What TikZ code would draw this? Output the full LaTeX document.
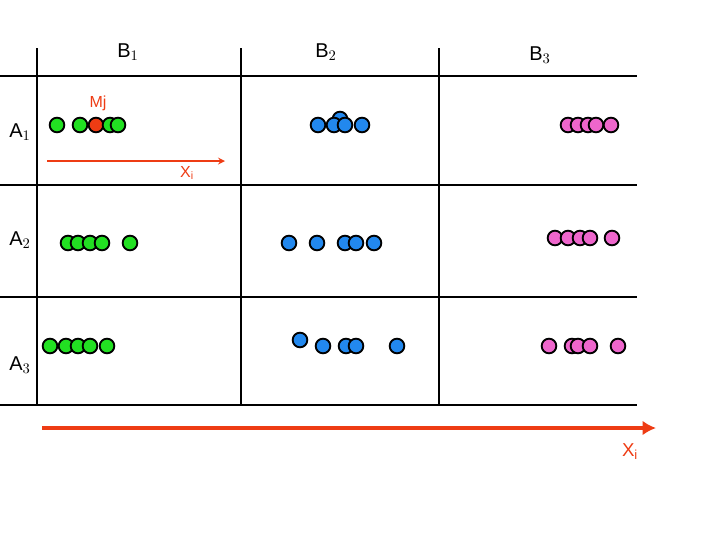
\documentclass[tikz,border=0pt]{standalone}
\usepackage{fontspec}
\setmainfont{Liberation Sans}
\usetikzlibrary{arrows.meta}
\definecolor{gdot}{RGB}{34,224,34}
\definecolor{bdot}{RGB}{34,136,238}
\definecolor{pdot}{RGB}{238,102,204}
\definecolor{rdot}{RGB}{238,60,20}
\begin{document}
\begin{tikzpicture}[x=0.75pt,y=-0.75pt,
 dot/.style={circle,draw=black,line width=1.4pt,minimum size=11pt,inner sep=0pt},
 g/.style={dot,fill=gdot}, b/.style={dot,fill=bdot}, p/.style={dot,fill=pdot}, r/.style={dot,fill=rdot},
 grid/.style={line width=1.2pt},
 lab/.style={font=\fontsize{15}{15}\selectfont},
 rlab/.style={font=\fontsize{12}{12}\selectfont,text=rdot}]
\useasboundingbox (0,0) rectangle (720,540);
\foreach \x in {37,241,439} \draw[grid] (\x,48) -- (\x,405);
\foreach \y in {76,185,297,405} \draw[grid] (0,\y) -- (637,\y);
\node[lab] (b1) at (128,52) {B$_1$};
\node[lab] (b2) at (326,52) {B$_2$};
\node[lab] (b3) at (540,55) {B$_3$};
\node[lab] (a1) at (20,132) {A$_1$};
\node[lab] (a2) at (20,240) {A$_2$};
\node[lab] (a3) at (20,365) {A$_3$};
% A1
\node[g] (g1) at (57,125) {}; \node[g] (g2) at (80,125) {};
\node[r] (m) at (96,125) {}; \node[g] (g3) at (110,125) {}; \node[g] (g4) at (118,125) {};
\node[rlab] (mj) at (98,103) {Mj};
\node[b] (b0) at (340,119) {};
\node[b] (b11) at (318,125) {}; \node[b] (b12) at (334,125) {}; \node[b] (b13) at (345,125) {}; \node[b] (b14) at (362,125) {};
\foreach \x [count=\i] in {568,578,588,596,611} \node[p] (p1\i) at (\x,125) {};
% A2
\foreach \x [count=\i] in {68,78,90,102,130} \node[g] (g2\i) at (\x,243) {};
\foreach \x [count=\i] in {289,317,345,356,374} \node[b] (b2\i) at (\x,243) {};
\foreach \x [count=\i] in {555,568,580,590,612} \node[p] (p2\i) at (\x,238) {};
% A3
\foreach \x [count=\i] in {50,66,78,90,107} \node[g] (g3\i) at (\x,346) {};
\node[b] (b30) at (300,340) {};
\foreach \x [count=\i] in {323,346,356,397} \node[b] (b3\i) at (\x,346) {};
\foreach \x [count=\i] in {549,572,578,590,618} \node[p] (p3\i) at (\x,346) {};
% arrows
\coordinate (s1) at (47,161); \coordinate (e1) at (225,161);
\draw[rdot,line width=1.3pt,-stealth] (s1) -- (e1);
\node[rlab] (xi1) at (187,173) {X$_\mathrm{i}$};
\coordinate (s2) at (42,428); \coordinate (e2) at (656,428);
\draw[rdot,line width=3pt,-{Latex[length=10pt,width=11pt]}] (s2) -- (e2);
\node[rlab,font=\fontsize{14}{14}\selectfont] (xi2) at (630,452) {X$_\mathrm{i}$};
\end{tikzpicture}
\end{document}
